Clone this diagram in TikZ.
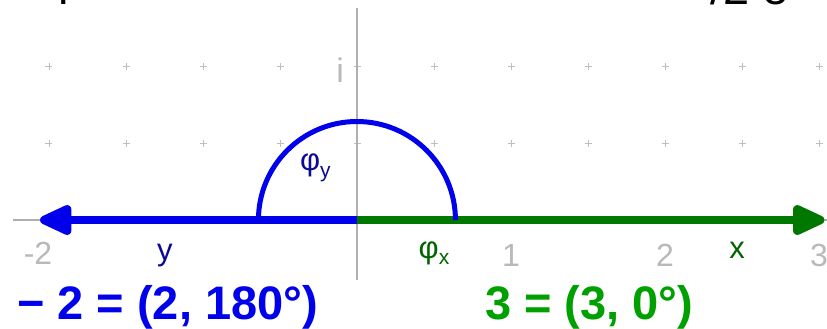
\documentclass[tikz,border=0pt]{standalone}
\usepackage{fontspec}
\setmainfont{Liberation Sans}
\usetikzlibrary{arrows.meta}
\definecolor{axisgray}{RGB}{175,175,175}
\definecolor{gridgray}{RGB}{190,190,190}
\definecolor{ticklabel}{RGB}{185,185,185}
\definecolor{vecblue}{RGB}{0,0,235}
\definecolor{vecgreen}{RGB}{0,120,0}
\definecolor{lblblue}{RGB}{10,10,150}
\definecolor{lblgreen}{RGB}{0,100,0}
\definecolor{txtblue}{RGB}{0,0,235}
\definecolor{txtgreen}{RGB}{0,160,0}
\begin{document}
\begin{tikzpicture}[x=154pt,y=154pt,
  ticklbl/.style={text=ticklabel,font=\fontsize{32}{32}\selectfont,inner sep=0pt,anchor=base},
  veclbl/.style={font=\fontsize{31}{31}\selectfont,inner sep=0pt,anchor=base},
  anglbl/.style={font=\fontsize{31}{31}\selectfont,inner sep=0pt},
  eqlbl/.style={font=\bfseries\fontsize{47}{47}\selectfont,inner sep=0pt,anchor=base west},
  cutlbl/.style={font=\fontsize{47}{47}\selectfont,inner sep=0pt,anchor=base west,text=black},
  axisline/.style={axisgray,line width=1.3pt},
  gridmark/.style={gridgray,line width=0.9pt},
  vecline/.style={line width=8.5pt,-{Triangle[length=38pt,width=32pt,round]}},
  angarc/.style={vecblue,line width=5pt},
]
\useasboundingbox (-2.3182,-0.7013) rectangle (3.0519,1.4286);
\clip (-2.3182,-0.7013) rectangle (3.0519,1.4286);
% cut-off text of the line above
\node[cutlbl] (cutl) at (-1.942,1.399) {l};
\node[cutlbl] (cutr) at (2.292,1.399) {/2 e};
% grid marks
\foreach \gx in {-4,-3,...,6} \foreach \gy in {0,1,2}
  \draw[gridmark] (\gx/2,\gy/2) +(-3.5pt,0) -- +(3.5pt,0) +(0,-3.5pt) -- +(0,3.5pt);
% axes
\coordinate (O) at (0,0);
\coordinate (hl) at (-2.234,0);
\coordinate (hr) at (3.06,0);
\coordinate (vt) at (0,1.377);
\coordinate (vb) at (0,-0.39);
\draw[axisline] (hl) -- (hr);
\draw[axisline] (vt) -- (vb);
% tick labels
\node[ticklbl] (tm2) at (-2.071,-0.292) {-2};
\node[ticklbl] (t1) at (1.0,-0.305) {1};
\node[ticklbl] (t2) at (2.0,-0.305) {2};
\node[ticklbl] (t3) at (3.0,-0.305) {3};
\node[ticklbl,font=\fontsize{34}{34}\selectfont] (iax) at (-0.11,0.89) {i};
% vectors
\coordinate (ytip) at (-2.058,0);
\coordinate (xtip) at (3.035,0);
\draw[vecline,vecgreen] (O) -- (xtip);
\draw[vecline,vecblue] (O) -- (ytip);
% angle arc
\coordinate (arcstart) at (-0.64,0);
\draw[angarc] (arcstart) arc[start angle=180,end angle=0,radius=98.5pt];
% labels
\node[veclbl,text=lblblue] (ylbl) at (-1.247,-0.262) {y};
\node[veclbl,text=lblgreen] (xlbl) at (2.468,-0.25) {x};
\node[anglbl,text=lblblue] (phiy) at (-0.27,0.34) {φ\raisebox{-0.4ex}{\fontsize{21}{21}\selectfont y}};
\node[anglbl,text=lblgreen] (phix) at (0.5,-0.214) {φ\raisebox{-0.4ex}{\fontsize{21}{21}\selectfont x}};
% equations
\node[eqlbl,text=txtblue] (eqy) at (-2.208,-0.649) {− 2 = (2, 180°)};
\node[eqlbl,text=txtgreen] (eqx) at (0.831,-0.649) {3 = (3, 0°)};
\end{tikzpicture}
\end{document}
